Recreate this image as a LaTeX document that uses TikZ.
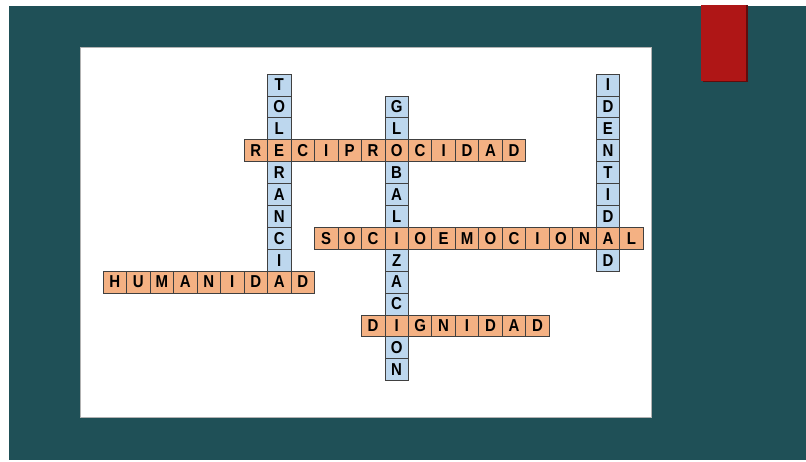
\documentclass[tikz,border=0pt]{standalone}
\usepackage{fontspec}
\setmainfont{Liberation Sans}
\definecolor{teal1}{HTML}{1F5057}
\definecolor{redbar}{HTML}{AF1616}
\definecolor{hcell}{HTML}{F4B183}
\definecolor{vcell}{HTML}{BDD7EE}
\definecolor{cellline}{HTML}{404040}
\tikzset{
  cellbase/.style={draw=cellline, line width=0.7pt, minimum width=23.48pt, minimum height=21.9pt,
    inner sep=0pt, font=\fontsize{15}{15}\selectfont\bfseries, text=black, anchor=center},
  hcellbox/.style={cellbase, fill=hcell},
  vcellbox/.style={cellbase, fill=vcell},
}
\newcommand{\cx}[1]{244+(#1+0.5)*23.48}
\newcommand{\cy}[1]{74+(#1+0.5)*21.9}
\newcommand{\tallch}[1]{\scalebox{1}[1.15]{#1}}
% vertical word: name, column, start row, letters
\newcommand{\vword}[4]{%
  \foreach \ch [count=\k from 0] in {#4} {
    \node[vcellbox] (#1-\k) at ({\cx{#2}},{\cy{#3+\k}}) {\tallch{\ch}};
  }}
\newcommand{\hword}[4]{%
  \foreach \ch [count=\k from 0] in {#4} {
    \node[hcellbox] (#1-\k) at ({\cx{#3+\k}},{\cy{#2}}) {\tallch{\ch}};
  }}
\begin{document}
\begin{tikzpicture}[x=1pt,y=-1pt]
\useasboundingbox (0,0) rectangle (806,462);
\fill[white] (0,0) rectangle (806,462);
\fill[teal1] (9,6) rectangle (806,460);
\fill[black!45!redbar] (702.5,5) rectangle (747.5,82.5);
\fill[redbar] (701,5) rectangle (746,81);
\fill[white] (80,47) rectangle (651,417);
\draw[gray!60, line width=0.5pt] (80,47) rectangle (651,417);
% vertical words
\vword{tol}{1}{0}{T,O,L,E,R,A,N,C,I,A}
\vword{glo}{6}{1}{G,L,O,B,A,L,I,Z,A,C,I,O,N}
\vword{ide}{15}{0}{I,D,E,N,T,I,D,A,D}
% horizontal words
\hword{rec}{3}{0}{R,E,C,I,P,R,O,C,I,D,A,D}
\hword{soc}{7}{3}{S,O,C,I,O,E,M,O,C,I,O,N,A,L}
\hword{hum}{9}{-6}{H,U,M,A,N,I,D,A,D}
\hword{dig}{11}{5}{D,I,G,N,I,D,A,D}
\end{tikzpicture}
\end{document}
